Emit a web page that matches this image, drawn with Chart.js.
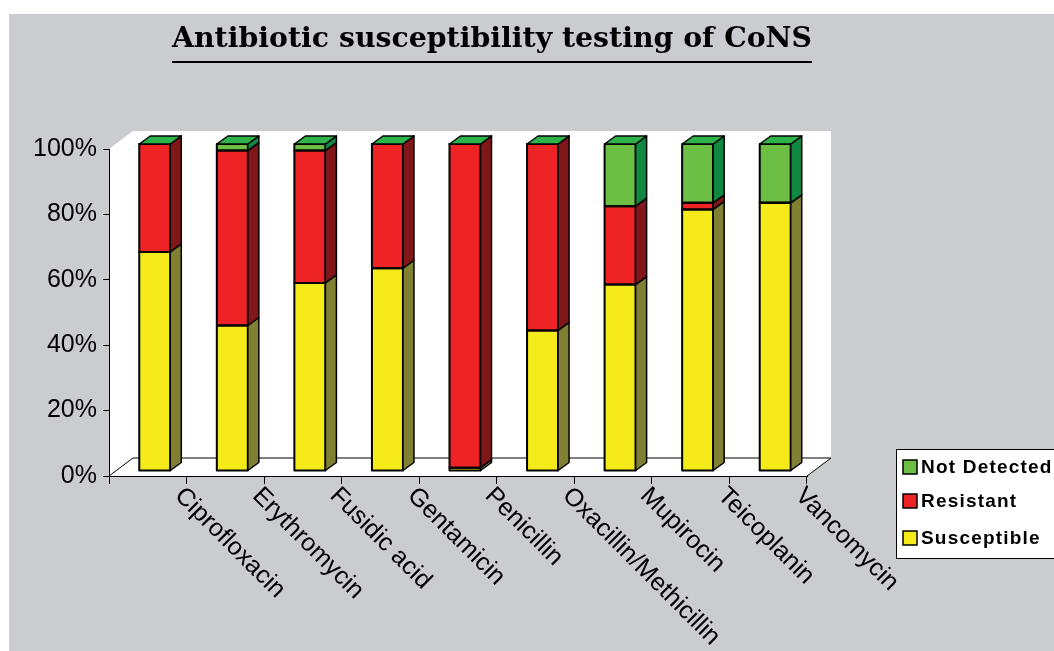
<!DOCTYPE html>
<html>
<head>
<meta charset="utf-8">
<script src="https://cdn.jsdelivr.net/npm/chart.js@4.4.1/dist/chart.umd.min.js"></script>
<style>
  html, body { margin: 0; padding: 0; background: #fff; }
  #wrap { width: 1054px; height: 651px; }
</style>
</head>
<body>
<div id="wrap"><canvas id="chart"></canvas></div>
<script>
const categories = ['Ciprofloxacin', 'Erythromycin', 'Fusidic acid', 'Gentamicin', 'Penicillin',
  'Oxacillin/Methicillin', 'Mupirocin', 'Teicoplanin', 'Vancomycin'];
const susceptible = [67, 44.5, 57.5, 62, 1, 43, 57, 80, 82];
const resistant   = [33, 53.5, 40.5, 38, 99, 57, 24, 2, 0];
const notDetected = [0, 2, 2, 0, 0, 0, 19, 18, 18];
const yTicks = [0, 20, 40, 60, 80, 100];

const titleText = 'Antibiotic susceptibility testing of CoNS';

// 3d look
const wall = { dx: 24, dy: -18 };
const barShift = { x: 7, y: -5 };
const barDepth = { dx: 11, dy: -8 };
const capColor = '#2db34a';

const scene3d = {
  id: 'scene3d',
  beforeDraw(chart) {
    const { ctx, chartArea: a } = chart;
    ctx.save();
    ctx.fillStyle = '#fff';
    ctx.fillRect(0, 0, chart.width, chart.height);
    ctx.fillStyle = '#cbcccf';
    ctx.fillRect(9, 14, chart.width - 9, chart.height - 14);

    // left wall + back wall + floor
    ctx.fillStyle = '#fff';
    ctx.beginPath();
    ctx.moveTo(a.left, a.top);
    ctx.lineTo(a.left + wall.dx, a.top + wall.dy);
    ctx.lineTo(a.right + wall.dx, a.top + wall.dy);
    ctx.lineTo(a.right + wall.dx, a.bottom + wall.dy);
    ctx.lineTo(a.right, a.bottom);
    ctx.lineTo(a.left, a.bottom);
    ctx.closePath();
    ctx.fill();

    ctx.strokeStyle = '#000';
    ctx.lineWidth = 1;
    ctx.beginPath();
    ctx.moveTo(a.left, a.bottom);
    ctx.lineTo(a.left + wall.dx, a.bottom + wall.dy);
    ctx.lineTo(a.right + wall.dx, a.bottom + wall.dy);
    ctx.lineTo(a.right, a.bottom);
    ctx.stroke();
    ctx.restore();
  },
  beforeDatasetsDraw(chart) {
    chart.ctx.save();
    chart.ctx.translate(barShift.x, barShift.y);
  },
  afterDatasetsDraw(chart) {
    const ctx = chart.ctx;
    const metas = chart.data.datasets.map((d, i) => chart.getDatasetMeta(i));
    ctx.strokeStyle = '#000';
    ctx.lineJoin = 'round';
    metas.forEach((meta, di) => {
      const side = chart.data.datasets[di].sideColor;
      meta.data.forEach(el => {
        const p = el.getProps(['x', 'y', 'base', 'width'], true);
        const l = p.x - p.width / 2, r = p.x + p.width / 2;
        const top = Math.min(p.y, p.base), bot = Math.max(p.y, p.base);
        // front outline so the joins between segments read as one line
        ctx.lineWidth = 2;
        ctx.strokeRect(l, top, r - l, bot - top);
        ctx.lineWidth = 1.5;
        ctx.beginPath();
        ctx.moveTo(r, top);
        ctx.lineTo(r + barDepth.dx, top + barDepth.dy);
        ctx.lineTo(r + barDepth.dx, bot + barDepth.dy);
        ctx.lineTo(r, bot);
        ctx.closePath();
        ctx.fillStyle = side;
        ctx.fill();
        ctx.stroke();
      });
    });
    // top caps
    ctx.lineWidth = 1.5;
    categories.forEach((c, i) => {
      let top = Infinity, l = 0, r = 0;
      metas.forEach(meta => {
        const p = meta.data[i].getProps(['x', 'y', 'base', 'width'], true);
        top = Math.min(top, p.y, p.base);
        l = p.x - p.width / 2;
        r = p.x + p.width / 2;
      });
      ctx.beginPath();
      ctx.moveTo(l, top);
      ctx.lineTo(l + barDepth.dx, top + barDepth.dy);
      ctx.lineTo(r + barDepth.dx, top + barDepth.dy);
      ctx.lineTo(r, top);
      ctx.closePath();
      ctx.fillStyle = capColor;
      ctx.fill();
      ctx.stroke();
    });
    ctx.restore();
  },
  afterDraw(chart) {
    const { ctx, chartArea: a } = chart;
    const xs = chart.scales.x;

    // category labels, rotated down to the right
    const step = xs.getPixelForValue(1) - xs.getPixelForValue(0);
    ctx.save();
    ctx.fillStyle = '#000';
    ctx.font = '25px "Liberation Sans", Arial, sans-serif';
    ctx.textAlign = 'left';
    ctx.textBaseline = 'top';
    categories.forEach((c, i) => {
      const px = xs.getPixelForValue(i) + step / 2 + 1;
      ctx.save();
      ctx.translate(px, a.bottom + 7);
      ctx.rotate(Math.PI / 4);
      ctx.fillText(c, 0, 0);
      ctx.restore();
    });
    ctx.restore();

    // title with underline
    ctx.save();
    ctx.font = 'bold 27px "DejaVu Serif", serif';
    const w = ctx.measureText(titleText).width;
    const tLeft = 172, tWidth = 640;
    ctx.translate(tLeft, 47);
    ctx.scale(tWidth / w, 1);
    ctx.fillStyle = '#000';
    ctx.textBaseline = 'alphabetic';
    ctx.fillText(titleText, 0, 0);
    ctx.restore();
    ctx.fillStyle = '#000';
    ctx.fillRect(tLeft, 61, tWidth, 2);

    // legend
    ctx.save();
    ctx.fillStyle = '#fff';
    ctx.strokeStyle = '#000';
    ctx.lineWidth = 1;
    ctx.fillRect(896, 449, 170, 109);
    ctx.strokeRect(896.5, 449.5, 170, 109);
    const items = chart.data.datasets.slice().reverse();
    const rows = [467, 501, 538];
    ctx.font = 'bold 19px "Liberation Sans", Arial, sans-serif';
    ctx.letterSpacing = '1.2px';
    ctx.textBaseline = 'middle';
    items.forEach((ds, k) => {
      ctx.fillStyle = ds.backgroundColor;
      ctx.fillRect(903, rows[k] - 7, 14, 14);
      ctx.lineWidth = 1.5;
      ctx.strokeRect(903, rows[k] - 7, 14, 14);
      ctx.fillStyle = '#000';
      ctx.fillText(ds.label, 921, rows[k] + 1);
    });
    ctx.restore();
  }
};

new Chart(document.getElementById('chart'), {
  type: 'bar',
  data: {
    labels: categories,
    datasets: [
      { label: 'Susceptible', data: susceptible, backgroundColor: '#f5eb1a', sideColor: '#808033' },
      { label: 'Resistant', data: resistant, backgroundColor: '#ee2326', sideColor: '#82171a' },
      { label: 'Not Detected', data: notDetected, backgroundColor: '#6dbe45', sideColor: '#108842' }
    ].map(d => Object.assign(d, {
      borderColor: '#000',
      borderWidth: 0,
      borderSkipped: false,
      inflateAmount: 0,
      barPercentage: 0.4,
      categoryPercentage: 1,
      clip: false
    }))
  },
  options: {
    responsive: true,
    maintainAspectRatio: false,
    animation: false,
    layout: { padding: { top: 149, right: 247, bottom: 0, left: 0 } },
    plugins: {
      legend: { display: false },
      title: { display: false },
      tooltip: { enabled: false }
    },
    scales: {
      x: {
        stacked: true,
        grid: { display: true, drawOnChartArea: false, offset: true, color: '#000', tickLength: 8 },
        border: { display: true, color: '#000', width: 1 },
        ticks: { display: false },
        afterFit: s => { s.height = 175; }
      },
      y: {
        stacked: true,
        min: 0,
        max: 100,
        afterBuildTicks: s => { s.ticks = yTicks.map(v => ({ value: v })); },
        grid: { display: true, drawOnChartArea: false, color: '#000', tickLength: 6 },
        border: { display: true, color: '#000', width: 1 },
        ticks: {
          color: '#000',
          padding: 6,
          font: { family: '"Liberation Sans", Arial, sans-serif', size: 25 },
          callback: v => v + '%'
        },
        afterFit: s => { s.width = 109; }
      }
    }
  },
  plugins: [scene3d]
});
</script>
</body>
</html>
